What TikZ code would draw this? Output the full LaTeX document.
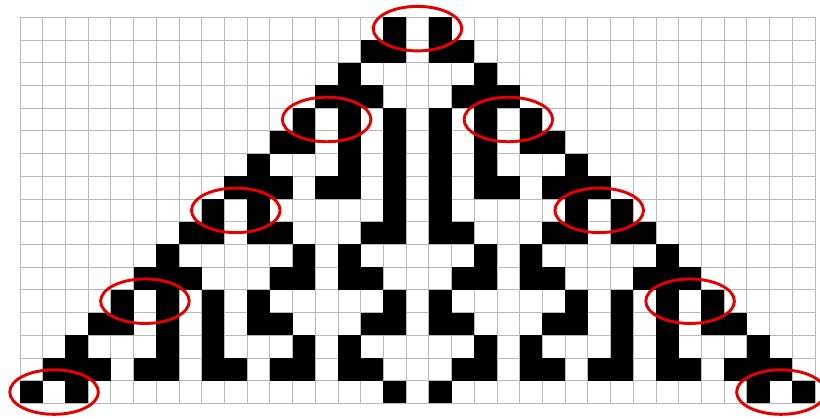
\documentclass[tikz,border=0pt]{standalone}
\tikzset{
  gridline/.style={draw=black!28, line width=0.6pt, step=0.6cm},
  cell/.style={fill=black},
  ring/.style={draw=red!90!black, line width=2.2pt},
}
\begin{document}
\begin{tikzpicture}[x=0.6cm, y=0.6cm]
  \useasboundingbox (-0.88,0.76) rectangle (35.22,-17.66);
  \draw[gridline] (0,0) grid (35,-17);
  % rows of the automaton, top to bottom
  \foreach \row/\cols in {
      0/{16,18},
      1/{15,16,18,19},
      2/{14,20},
      3/{13,14,15,19,20,21},
      4/{12,14,16,18,20,22},
      5/{11,12,14,16,18,20,22,23},
      6/{10,14,16,18,20,24},
      7/{9,10,11,13,14,16,18,20,21,23,24,25},
      8/{8,10,16,18,24,26},
      9/{7,8,10,11,15,16,18,19,23,24,26,27},
      10/{6,12,14,20,22,28},
      11/{5,6,7,11,12,14,15,19,20,22,23,27,28,29},
      12/{4,6,8,10,16,18,24,26,28,30},
      13/{3,4,6,8,10,11,15,16,18,19,23,24,26,28,30,31},
      14/{2,6,8,12,14,20,22,26,28,32},
      15/{1,2,3,5,6,8,9,11,12,14,15,19,20,22,23,25,26,28,29,31,32,33},
      16/{0,2,16,18,32,34}}
    \foreach \col in \cols
      \fill[cell] (\col,-\row) rectangle ++(1,-1);
  \foreach \col/\row in {17/0, 13/4, 21/4, 9/8, 25/8, 5/12, 29/12, 1/16, 33/16}
    \draw[ring] (\col+0.5,-\row-0.5) ellipse (1.95 and 0.98);
\end{tikzpicture}
\end{document}
